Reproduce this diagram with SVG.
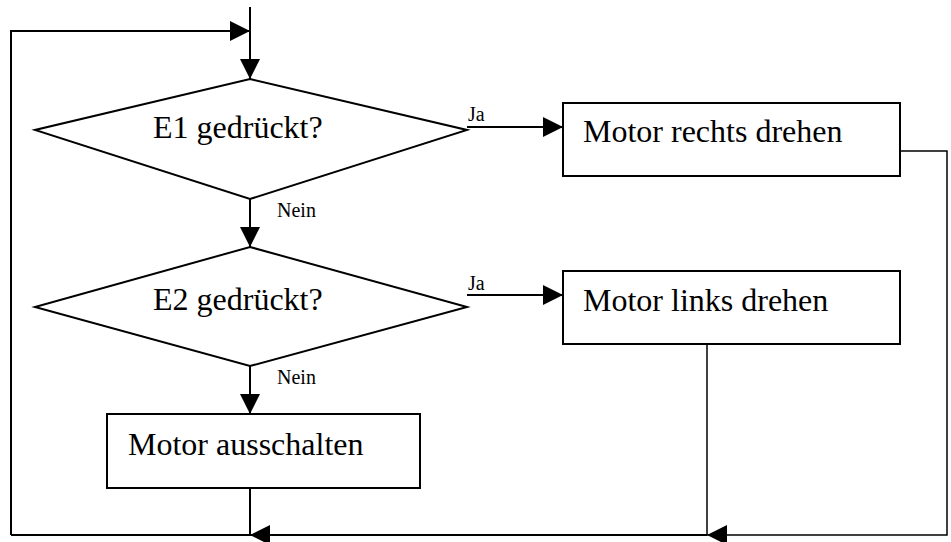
<svg xmlns="http://www.w3.org/2000/svg" width="951" height="542" viewBox="0 0 951 542">
<style>
.shape{fill:#fff;stroke:#000;stroke-width:2}
.conn{fill:none;stroke:#000;stroke-width:2}
.thin{fill:none;stroke:#000;stroke-width:1.5}
.big{font-family:"Liberation Serif","Times New Roman",serif;font-size:32px;fill:#000}
.small{font-family:"Liberation Serif","Times New Roman",serif;font-size:20px;fill:#000}
</style>
<defs>
<marker id="arr" markerUnits="userSpaceOnUse" markerWidth="20" markerHeight="20" refX="20" refY="10" orient="auto" viewBox="0 0 20 20">
<path d="M0,0 L20,10 L0,20 z" fill="#000"/>
</marker>
</defs>
<rect width="951" height="542" fill="#fff"/>
<g id="connectors">
<path class="conn" d="M250,7 V79" marker-end="url(#arr)"/>
<path class="conn" d="M11,535 V31 H250" marker-end="url(#arr)"/>
<path class="conn" d="M250,199 V247" marker-end="url(#arr)"/>
<path class="conn" d="M250,366 V414" marker-end="url(#arr)"/>
<path class="conn" d="M467,127 H563" marker-end="url(#arr)"/>
<path class="conn" d="M467,295 H563" marker-end="url(#arr)"/>
<path class="conn" d="M250,488 V535"/>
<path class="thin" d="M900,151 H947 V535 H707" marker-end="url(#arr)"/>
<path class="thin" d="M707,344 V535"/>
<path class="conn" d="M707,535 H250" marker-end="url(#arr)"/>
<path class="conn" d="M250,535 H11"/>
<text class="small" x="468" y="121">Ja</text>
<text class="small" x="468" y="290">Ja</text>
<text class="small" x="277" y="217">Nein</text>
<text class="small" x="277" y="384">Nein</text>
</g>
<g id="e1">
<polygon class="shape" points="250,79 467,130 250,199 35,130"/>
<text class="big" x="153" y="138">E1 gedrückt?</text>
</g>
<g id="e2">
<polygon class="shape" points="250,247 467,307 250,366 35,307"/>
<text class="big" x="153" y="310">E2 gedrückt?</text>
</g>
<g id="rechts">
<rect class="shape" x="563" y="103" width="337" height="73"/>
<text class="big" x="583" y="142">Motor rechts drehen</text>
</g>
<g id="links">
<rect class="shape" x="563" y="271" width="337" height="73"/>
<text class="big" x="583" y="311">Motor links drehen</text>
</g>
<g id="aus">
<rect class="shape" x="107" y="414" width="313" height="74"/>
<text class="big" x="128" y="455">Motor ausschalten</text>
</g>
</svg>
